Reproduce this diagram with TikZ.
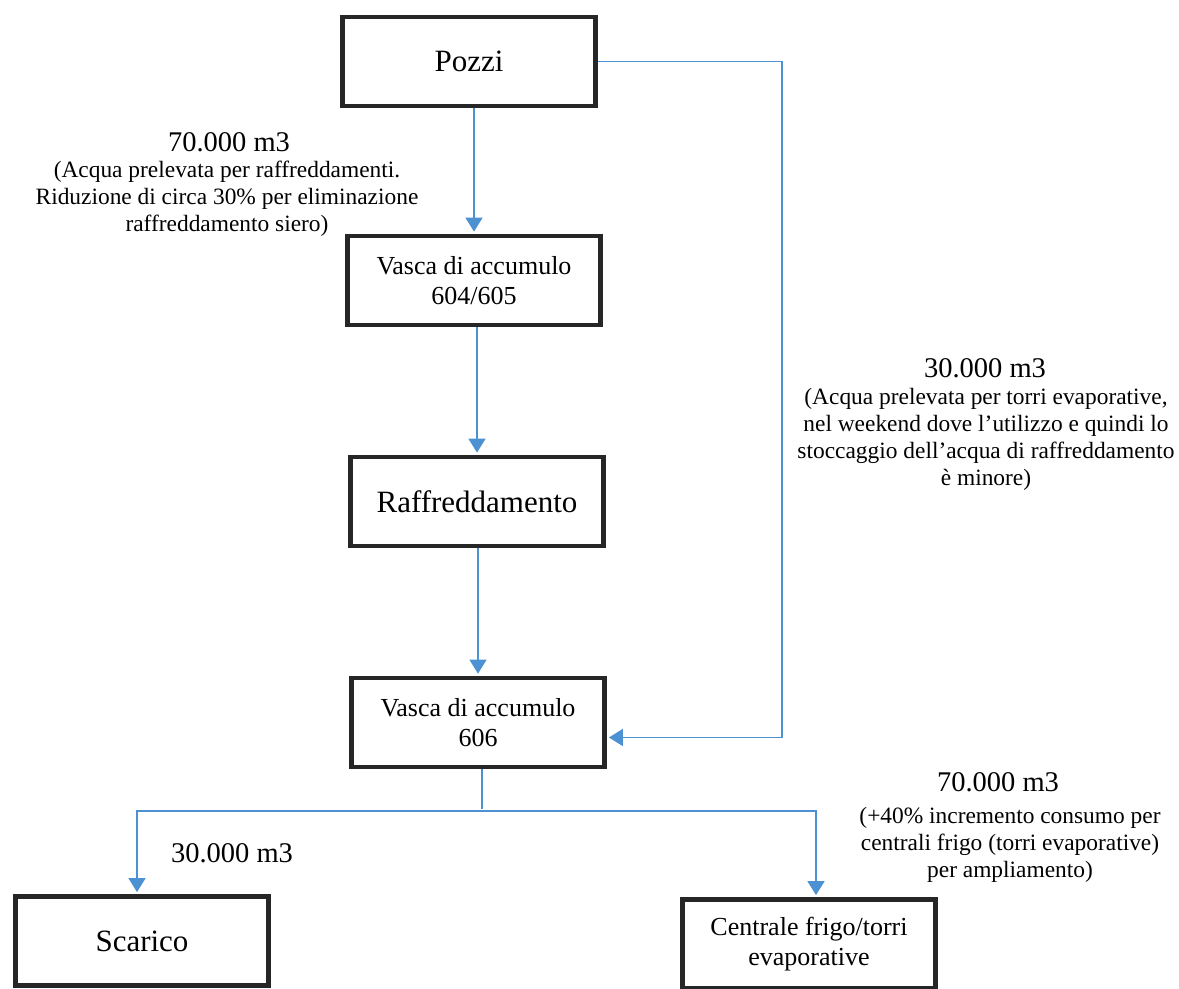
\documentclass[tikz,border=0pt]{standalone}
\usepackage{fontspec}
\setmainfont{Liberation Serif}
\usetikzlibrary{arrows.meta,positioning}
\definecolor{flowblue}{RGB}{76,146,210}

\begin{document}
\begin{tikzpicture}[x=0.5pt,y=-0.5pt,->,>={Triangle[length=7pt,width=8.5pt]},shorten >=1pt,color=flowblue,line width=0.8pt,
  main node/.style={rectangle,draw=black!85,line width=2.4pt,minimum width=126.5pt,minimum height=44.5pt,align=center,text=black,font=\fontsize{15.5}{18}\selectfont},
  small node/.style={main node,font=\fontsize{13}{15}\selectfont},
  qty node/.style={text=black,inner sep=0pt,font=\fontsize{14.25}{16}\selectfont},
  note node/.style={text=black,inner sep=0pt,align=center,font=\fontsize{11.7}{13.5}\selectfont}]

      \useasboundingbox (0,0) rectangle (1179,989);

      \node[main node] at (469,61.5) (pozzi) {Pozzi};
      \node[small node] at (474,280.5) (vasca1) {Vasca di accumulo\\604/605};
      \node[main node] at (477,501.5) (raff) {Raffreddamento};
      \node[small node] at (478,722.5) (vasca2) {Vasca di accumulo\\606};
      \node[main node] at (142,941) (scarico) {Scarico};
      \node[small node] at (809,944) (frigo) {Centrale frigo/torri\\evaporative};

      \node[qty node] at (229,142) (q1) {70.000 m3};
      \node[note node] at (227,199) (n1) {(Acqua prelevata per raffreddamenti.\\ Riduzione di circa 30\% per eliminazione\\ raffreddamento siero)};
      \node[qty node] at (985,368) (q2) {30.000 m3};
      \node[note node] at (986,439) (n2) {(Acqua prelevata per torri evaporative,\\ nel weekend dove l’utilizzo e quindi lo\\ stoccaggio dell’acqua di raffreddamento\\ è minore)};
      \node[qty node] at (998,782) (q3) {70.000 m3};
      \node[note node] at (1010,845) (n3) {(+40\% incremento consumo per\\ centrali frigo (torri evaporative)\\ per ampliamento)};
      \node[qty node] at (232,853) (q4) {30.000 m3};

      \coordinate (loop) at (782,61.5);
      \coordinate (split) at (482,811);

      \path
      (pozzi.south -| vasca1.north) edge (vasca1.north)
      (vasca1.south -| raff.north) edge (raff.north)
      (raff.south -| vasca2.north) edge (vasca2.north)
      ;

      \draw (pozzi.east) -- (loop) |- ([yshift=-7.5pt]vasca2.east);
      \draw[-] (vasca2.south -| split) -- (split);
      \draw (split) -| ([xshift=-2.5pt]scarico.north);
      \draw (split) -| ([xshift=3.5pt]frigo.north);

    \end{tikzpicture}
\end{document}
